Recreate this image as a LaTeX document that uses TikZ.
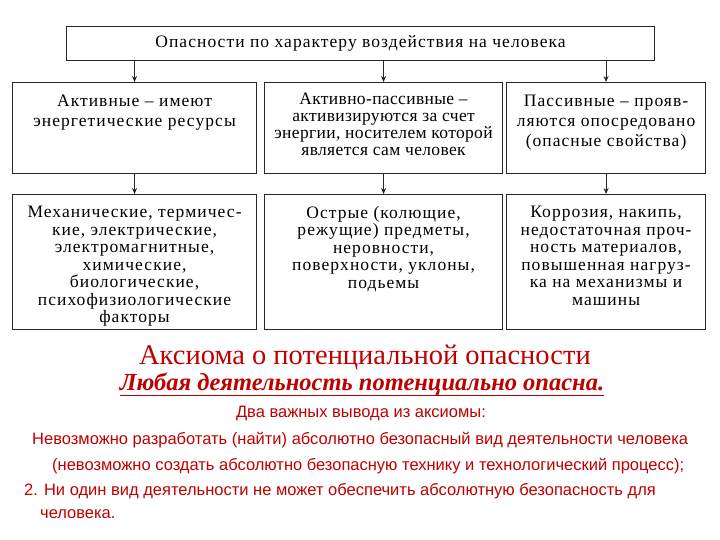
\documentclass[tikz,border=0pt]{standalone}
\usepackage{fontspec}
\setmainfont{Liberation Serif}
\setsansfont{Liberation Sans}
\newfontfamily\boxfont{Liberation Serif}[LetterSpace=6]
\newfontfamily\tightboxfont{Liberation Serif}[LetterSpace=2]
\usetikzlibrary{arrows.meta}
\definecolor{axred}{RGB}{190,0,0}
\begin{document}
\begin{tikzpicture}[x=1pt,y=-1pt,
  box/.style={draw=black!85, line width=1.1pt, inner sep=0pt, anchor=north west},
  arr/.style={-{Stealth[length=6pt,width=5pt]}, line width=0.8pt, draw=black!85},
  btext/.style={anchor=north, inner sep=0pt, align=center, font=\boxfont\fontsize{17.5}{17.5}\selectfont},
  redtxt/.style={text=axred, inner sep=0pt},
  sanstxt/.style={redtxt, font=\sffamily\fontsize{16.5}{18}\selectfont}]
\useasboundingbox (0,0) rectangle (720,540);
% boxes
\node[box, minimum width=588pt, minimum height=34pt] (top) at (66,26) {};
\node[btext, anchor=center] (toptext) at (top.center) {Опасности по характеру воздействия на человека};
\node[box, minimum width=244pt, minimum height=91pt] (m1) at (12,82) {};
\node[box, minimum width=238pt, minimum height=91pt] (m2) at (264,82) {};
\node[box, minimum width=199pt, minimum height=91pt] (m3) at (506,82) {};
\node[box, minimum width=244pt, minimum height=135pt] (b1) at (12,194) {};
\node[box, minimum width=238pt, minimum height=135pt] (b2) at (264,194) {};
\node[box, minimum width=199pt, minimum height=135pt] (b3) at (506,194) {};
% texts
\node[btext, font=\boxfont\fontsize{17.5}{20}\selectfont] (m1t) at ([yshift=-13pt]m1.north) {Активные – имеют\\энергетические ресурсы};
\node[btext, font=\tightboxfont\fontsize{17.5}{16.8}\selectfont] (m2t) at ([yshift=-11pt]m2.north) {Активно-пассивные –\\активизируются за счет\\энергии, носителем которой\\является сам человек};
\node[btext, font=\boxfont\fontsize{17.5}{20}\selectfont] (m3t) at ([yshift=-13pt]m3.north) {Пассивные – прояв-\\ляются опосредовано\\(опасные свойства)};
\node[btext] (b1t) at ([yshift=-12pt]b1.north) {Механические, термичес-\\кие, электрические,\\электромагнитные,\\химические,\\биологические,\\психофизиологические\\факторы};
\node[btext] (b2t) at ([yshift=-12pt]b2.north) {Острые (колющие,\\режущие) предметы,\\неровности,\\поверхности, уклоны,\\подьемы};
\node[btext] (b3t) at ([yshift=-12pt]b3.north) {Коррозия, накипь,\\недостаточная проч-\\ность материалов,\\повышенная нагруз-\\ка на механизмы и\\машины};
% arrows
\foreach \n in {m1,m2,m3} \draw[arr] (top.south -| \n.north) -- (\n.north);
\draw[arr] (m1.south) -- (b1.north);
\draw[arr] (m2.south) -- (b2.north);
\draw[arr] (m3.south) -- (b3.north);
% axiom
\node[redtxt, font=\fontsize{28.5}{30}\selectfont] (ax) at (365,357) {Аксиома о потенциальной опасности};
\node[redtxt, font=\bfseries\itshape\fontsize{24.5}{26}\selectfont, anchor=base] (any) at (362,390) {Любая деятельность потенциально опасна.};
\draw[axred, line width=1.5pt] ([yshift=-5.5pt]any.base west) -- ([yshift=-5.5pt]any.base east);
\node[sanstxt] (two) at (361,413) {Два важных вывода из аксиомы:};
\node[sanstxt, anchor=west] (l1) at (32,440) {Невозможно разработать (найти) абсолютно безопасный вид деятельности человека};
\node[sanstxt, anchor=west] (l2) at (52,466) {(невозможно создать абсолютно безопасную технику и технологический процесс);};
\node[sanstxt, anchor=west] (l3) at (24,491) {2. Ни один вид деятельности не может обеспечить абсолютную безопасность для};
\node[sanstxt, anchor=west] (l4) at (40,514) {человека.};
\end{tikzpicture}
\end{document}
